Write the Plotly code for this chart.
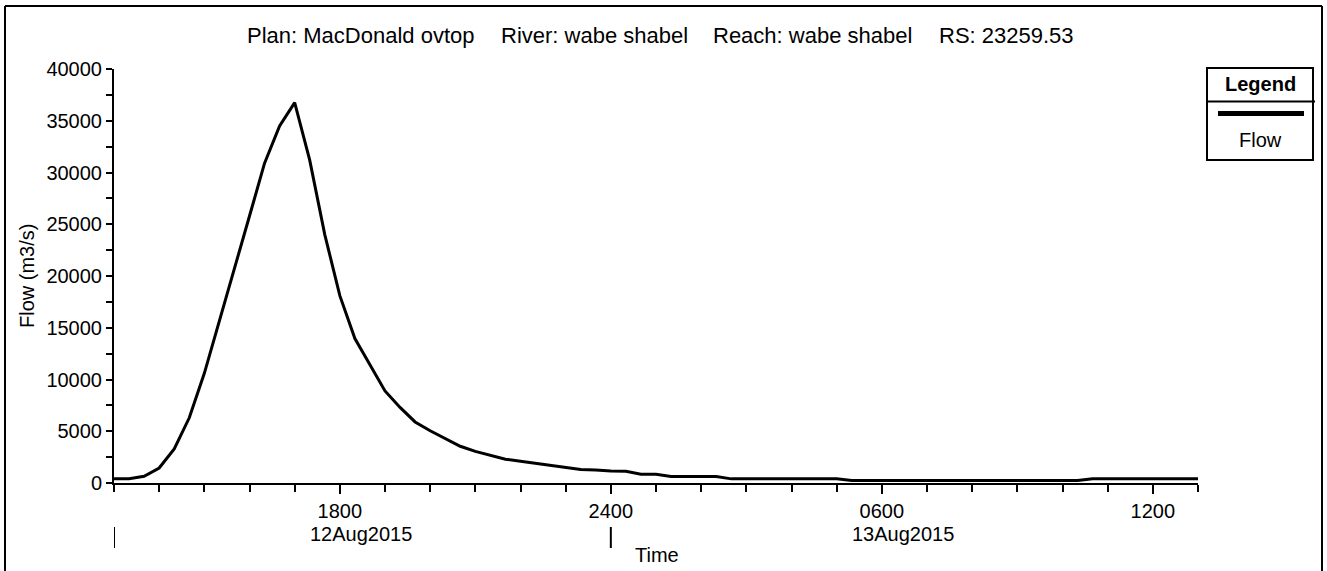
import pandas as pd
import plotly.graph_objects as go

# ---- data ----
start_time = "2015-08-12 13:00"
step_minutes = 20
flow = [
    400, 420, 650, 1450, 3300, 6300, 10600, 15600, 20600, 25800,
    30900, 34500, 36750, 31200, 24000, 18100, 13950, 11400, 8900, 7300,
    5900, 5050, 4300, 3550, 3050, 2650, 2300, 2100, 1900, 1700,
    1480, 1300, 1250, 1150, 1130, 850, 850, 620, 620, 620,
    620, 400, 400, 400, 400, 400, 400, 400, 400, 250,
    250, 250, 250, 250, 250, 250, 250, 250, 250, 250,
    250, 250, 250, 250, 250, 420, 420, 420, 420, 420,
    420, 420, 420,
]
times = pd.date_range(start_time, periods=len(flow), freq=f"{step_minutes}min")

major_tick_times = ["2015-08-12 18:00", "2015-08-13 00:00", "2015-08-13 06:00", "2015-08-13 12:00"]
major_tick_text = ["1800", "2400", "0600", "1200"]
date_labels = ["12Aug2015", "13Aug2015"]
date_label_times = ["2015-08-12 18:00", "2015-08-13 06:00"]
date_marker_times = ["2015-08-12 13:00", "2015-08-13 00:00"]
x_range = ["2015-08-12 13:00", "2015-08-13 13:00"]

title_parts = ["Plan: MacDonald ovtop", "River: wabe shabel", "Reach: wabe shabel", "RS:\u00a023259.53"]
title_part_left_px = [245, 499, 711, 937]

# ---- layout geometry (pixels) ----
W, H = 1327, 571
L, R, T, B = 114, 1198, 69, 483
FONT = "Liberation Sans, Arial, sans-serif"


def pxx(p):
    return (p - L) / (R - L)


def pxy(p):
    return (B - p) / (B - T)


fig = go.Figure()
fig.add_trace(go.Scatter(x=times, y=flow, mode="lines", name="Flow",
                         line=dict(color="black", width=3), showlegend=False))

fig.update_layout(
    width=W, height=H, autosize=False,
    margin=dict(l=L, r=W - R, t=T, b=H - B, pad=0),
    paper_bgcolor="white", plot_bgcolor="white",
    font=dict(family=FONT, size=20, color="black"),
    showlegend=False,
)

fig.update_xaxes(
    range=x_range, showgrid=False, zeroline=False,
    showline=True, linecolor="black", linewidth=2,
    tickmode="array", tickvals=major_tick_times, ticktext=major_tick_text,
    ticks="outside", ticklen=9, tickwidth=2, tickcolor="black",
    tickfont=dict(family=FONT, size=20, color="black"),
    minor=dict(tickmode="linear", tick0="2015-08-12 13:00", dtick=3600000,
               ticks="outside", ticklen=7, tickwidth=2, tickcolor="black", showgrid=False),
)
fig.update_yaxes(
    range=[0, 40000], showgrid=False, zeroline=False,
    showline=True, linecolor="black", linewidth=2,
    tickmode="linear", tick0=0, dtick=5000, tickformat="d",
    ticks="outside", ticklen=6, tickwidth=2, tickcolor="black",
    tickfont=dict(family=FONT, size=20, color="black"),
    minor=dict(tickmode="linear", tick0=0, dtick=2500,
               ticks="outside", ticklen=6, tickwidth=2, tickcolor="black", showgrid=False),
)

shapes = []
annotations = []

# outer frame (left, top, right)
for x0, y0, x1, y1 in [(5, 6, 5, 571), (5, 6, 1322, 6), (1322, 6, 1322, 571)]:
    shapes.append(dict(type="line", xref="paper", yref="paper",
                       x0=pxx(x0), y0=pxy(y0), x1=pxx(x1), y1=pxy(y1),
                       line=dict(color="black", width=2)))

# title (four parts)
for part, left in zip(title_parts, title_part_left_px):
    annotations.append(dict(text=part, xref="paper", yref="paper",
                            x=pxx(left), y=pxy(35), xanchor="left", yanchor="middle",
                            showarrow=False, font=dict(family=FONT, size=22, color="black")))

# y axis title
annotations.append(dict(text="Flow (m3/s)", xref="paper", yref="paper",
                        x=pxx(27), y=pxy(276), xanchor="center", yanchor="middle",
                        textangle=-90, showarrow=False,
                        font=dict(family=FONT, size=20, color="black")))

# x axis title
annotations.append(dict(text="Time", xref="paper", yref="paper",
                        x=pxx(657), y=pxy(555), xanchor="center", yanchor="middle",
                        showarrow=False, font=dict(family=FONT, size=20, color="black")))

# date labels
for t, lab in zip(date_label_times, date_labels):
    annotations.append(dict(text=lab, xref="x", yref="paper",
                            x=t, y=pxy(534), xanchor="center", yanchor="middle",
                            xshift=21, showarrow=False,
                            font=dict(family=FONT, size=20, color="black")))

# date separator marks
for t in date_marker_times:
    shapes.append(dict(type="line", xref="x", yref="paper",
                       x0=t, x1=t, y0=pxy(527), y1=pxy(548),
                       line=dict(color="black", width=2)))

# legend box
lx0, lx1, ly0, ly1 = 1207, 1313, 68, 160
shapes.append(dict(type="rect", xref="paper", yref="paper",
                   x0=pxx(lx0), x1=pxx(lx1), y0=pxy(ly1), y1=pxy(ly0),
                   line=dict(color="black", width=2), fillcolor="white"))
shapes.append(dict(type="line", xref="paper", yref="paper",
                   x0=pxx(lx0), x1=pxx(1315), y0=pxy(101.5), y1=pxy(101.5),
                   line=dict(color="black", width=2)))
shapes.append(dict(type="line", xref="paper", yref="paper",
                   x0=pxx(1218), x1=pxx(1304), y0=pxy(113.5), y1=pxy(113.5),
                   line=dict(color="black", width=5)))
annotations.append(dict(text="<b>Legend</b>", xref="paper", yref="paper",
                        x=pxx(1260), y=pxy(84), xanchor="center", yanchor="middle",
                        showarrow=False, font=dict(family=FONT, size=20, color="black")))
annotations.append(dict(text="Flow", xref="paper", yref="paper",
                        x=pxx(1260), y=pxy(140), xanchor="center", yanchor="middle",
                        showarrow=False, font=dict(family=FONT, size=20, color="black")))

fig.update_layout(shapes=shapes, annotations=annotations)
fig.write_html("out.html")
